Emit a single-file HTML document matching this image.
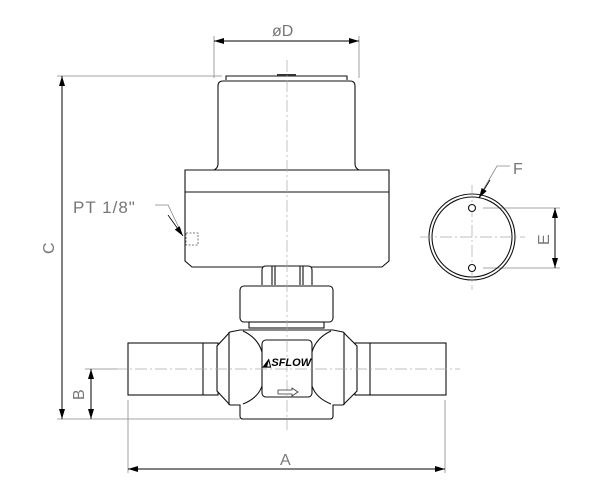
<!DOCTYPE html>
<html><head><style>body{margin:0;background:#fff}svg{display:block}</style></head><body>
<svg width="600" height="490" viewBox="0 0 600 490" xmlns="http://www.w3.org/2000/svg" font-family="Liberation Sans, sans-serif">
<defs>
<marker id="ar" viewBox="0 0 10 6" refX="10" refY="3" markerWidth="10" markerHeight="6" orient="auto-start-reverse" markerUnits="userSpaceOnUse"><path d="M0,0L10,3L0,6z" fill="#000"/></marker>
</defs>
<g stroke="#888" stroke-width="0.8" fill="none">
<line x1="214" y1="36" x2="214" y2="78"/><line x1="359" y1="36" x2="359" y2="78"/>
<line x1="57" y1="76" x2="222" y2="76"/>
<line x1="57" y1="419" x2="240" y2="419"/>
<line x1="85" y1="369" x2="118" y2="369"/>
<line x1="128" y1="400" x2="128" y2="473"/><line x1="445" y1="400" x2="445" y2="473"/>
<line x1="483" y1="208" x2="560" y2="208"/><line x1="483" y1="268" x2="560" y2="268"/>
<polyline points="155,205 168,205 182,234"/>
<polyline points="510,166 497,166 479,197"/>
</g>
<g stroke="#000" stroke-width="1" fill="none">
<line x1="214" y1="41" x2="359" y2="41" marker-start="url(#ar)" marker-end="url(#ar)"/>
<line x1="62" y1="76" x2="62" y2="419" marker-start="url(#ar)" marker-end="url(#ar)"/>
<line x1="91" y1="369" x2="91" y2="419" marker-start="url(#ar)" marker-end="url(#ar)"/>
<line x1="128" y1="469" x2="445" y2="469" marker-start="url(#ar)" marker-end="url(#ar)"/>
<line x1="555" y1="208" x2="555" y2="268" marker-start="url(#ar)" marker-end="url(#ar)"/>
<line x1="168" y1="215" x2="183" y2="236" marker-end="url(#ar)" stroke-width="0.8"/>
<line x1="490" y1="180" x2="479" y2="198" marker-end="url(#ar)" stroke-width="0.8"/>
</g>
<g stroke="#111" stroke-width="1.1" fill="#fff">
<path d="M226,80 L226,76 L347,76 L347,80"/>
<path d="M214,170 Q218,168 218,164 L218,86 Q218,81 223,81 L350,81 Q355,81 355,86 L355,164 Q355,168 359,170 Z"/>
<rect x="277" y="74" width="19" height="2" fill="#333" stroke="none"/>
<path d="M185,170 L389,170 L389,261 L382,267 L192,267 L185,261 Z"/>
<line x1="185" y1="192" x2="389" y2="192"/>
<path d="M262,285 L262,270 Q262,266 266,266 L308,266 Q312,266 312,270 L312,285"/>
<line x1="272" y1="266" x2="272" y2="285"/><line x1="275" y1="266" x2="275" y2="285"/>
<line x1="300" y1="266" x2="300" y2="285"/><line x1="303" y1="266" x2="303" y2="285"/>
<rect x="240" y="286" width="93" height="36" rx="4"/>
<rect x="249" y="322" width="75" height="6"/>
<rect x="128" y="343" width="90" height="52"/>
<line x1="203" y1="343" x2="203" y2="395"/>
<rect x="355" y="343" width="91" height="52"/>
<line x1="370" y1="343" x2="370" y2="395"/>
<path d="M240,330 L333,330 L343,332 L357,346 L357,391 L343,405 L333,405 L333,416 Q333,419 330,419 L243,419 Q240,419 240,416 L240,405 L230,405 L217,391 L217,346 L230,332 Z"/>
<line x1="229" y1="332" x2="229" y2="405"/><line x1="344" y1="332" x2="344" y2="405"/>
<path d="M243,331 Q258,338 262,352 M331,331 Q316,338 312,352 M243,404 Q258,398 262,386 M331,404 Q316,398 312,386" fill="none"/>
<rect x="262" y="340" width="50" height="57" rx="4"/>
<circle cx="472" cy="237" r="43" fill="none"/>
<circle cx="472" cy="237" r="40" fill="none"/>
</g>
<g stroke="#aaa" stroke-width="0.7" stroke-dasharray="12,3,2,3" fill="none">
<line x1="287" y1="60" x2="287" y2="430"/>
<line x1="115" y1="369" x2="460" y2="369"/>
<line x1="472" y1="185" x2="472" y2="290"/>
<line x1="420" y1="237" x2="525" y2="237"/>
</g>
<g stroke="#111" stroke-width="1.1" fill="#fff">
<circle cx="472" cy="208" r="3.5"/>
<circle cx="472" cy="268" r="3.5"/>
</g>
<rect x="186" y="233" width="12" height="12" fill="none" stroke="#555" stroke-width="0.8" stroke-dasharray="2,1.5"/>
<path d="M276,396 L290,396 L290,394 L296,398 L290,402 L290,400 L276,400 Z" transform="translate(2,-6)" fill="#fff" stroke="#333" stroke-width="0.8"/>
<text x="287" y="366" font-size="11" font-weight="bold" font-style="italic" text-anchor="middle" fill="#000">◭SFLOW</text>
<g fill="#777" font-size="16">
<text x="272" y="36">øD</text>
<text x="73" y="213" font-size="17" letter-spacing="1">PT 1/8"</text>
<text x="513" y="174">F</text>
<text x="280" y="465">A</text>
<text transform="translate(54,254) rotate(-90)">C</text>
<text transform="translate(84,400) rotate(-90)">B</text>
<text transform="translate(549,245) rotate(-90)">E</text>
</g>
</svg>
</body></html>
